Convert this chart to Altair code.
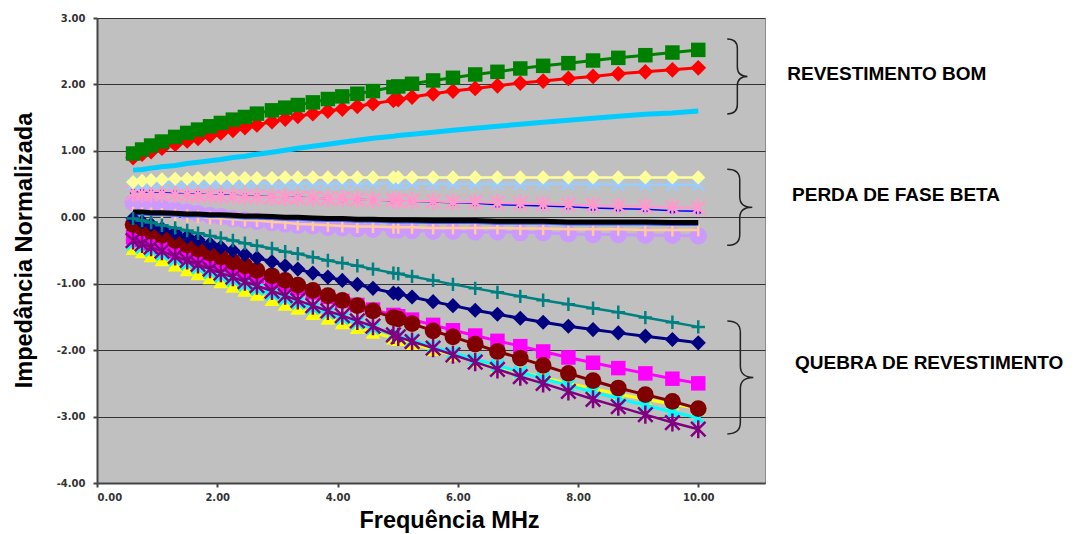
import altair as alt
import pandas as pd

# ---------------- data ----------------
freq = [0.60, 0.75, 0.90, 1.08, 1.30, 1.50, 1.68, 1.88, 2.06, 2.26, 2.46, 2.66, 2.91, 3.13,
        3.34, 3.59, 3.84, 4.08, 4.33, 4.59, 4.93, 5.01, 5.24, 5.59, 5.92, 6.29, 6.66, 7.04,
        7.42, 7.84, 8.25, 8.67, 9.12, 9.57, 10.00]

# REVESTIMENTO BOM
bom_green = [0.96, 1.02, 1.08, 1.14, 1.21, 1.27, 1.32, 1.37, 1.42, 1.47, 1.51, 1.56, 1.61, 1.65,
             1.69, 1.73, 1.78, 1.82, 1.86, 1.90, 1.96, 1.97, 2.01, 2.06, 2.10, 2.15, 2.19, 2.24,
             2.28, 2.32, 2.36, 2.40, 2.44, 2.48, 2.52]
bom_red = [0.90, 0.95, 0.99, 1.04, 1.10, 1.15, 1.19, 1.23, 1.27, 1.31, 1.35, 1.39, 1.44, 1.48,
           1.52, 1.56, 1.60, 1.63, 1.67, 1.71, 1.76, 1.77, 1.81, 1.86, 1.90, 1.94, 1.98, 2.02,
           2.05, 2.09, 2.12, 2.16, 2.19, 2.22, 2.25]
bom_sky = [0.71, 0.72, 0.74, 0.76, 0.78, 0.81, 0.83, 0.85, 0.87, 0.90, 0.92, 0.95, 0.98, 1.01,
           1.04, 1.07, 1.10, 1.13, 1.16, 1.19, 1.22, 1.23, 1.25, 1.28, 1.31, 1.34, 1.37, 1.40,
           1.43, 1.46, 1.49, 1.52, 1.55, 1.57, 1.60]

# PERDA DE FASE BETA
beta_ltyellow = [0.53, 0.55, 0.56, 0.57, 0.58, 0.58, 0.59, 0.59, 0.59, 0.59, 0.59, 0.59, 0.59, 0.60,
                 0.60, 0.60, 0.60, 0.60, 0.60, 0.60, 0.60, 0.60, 0.60, 0.60, 0.60, 0.60, 0.60, 0.60,
                 0.60, 0.60, 0.60, 0.60, 0.60, 0.60, 0.60]
beta_ltblue = [0.50, 0.51, 0.51, 0.52, 0.52, 0.52, 0.52, 0.52, 0.52, 0.52, 0.52, 0.52, 0.51, 0.51,
               0.51, 0.51, 0.51, 0.51, 0.51, 0.51, 0.51, 0.51, 0.51, 0.50, 0.50, 0.50, 0.50, 0.50,
               0.50, 0.50, 0.50, 0.49, 0.49, 0.49, 0.49]
beta_pink = [0.36, 0.35, 0.35, 0.35, 0.34, 0.34, 0.33, 0.33, 0.32, 0.32, 0.31, 0.31, 0.30, 0.30,
             0.29, 0.29, 0.28, 0.28, 0.27, 0.26, 0.26, 0.25, 0.25, 0.24, 0.23, 0.23, 0.22, 0.21,
             0.20, 0.19, 0.18, 0.17, 0.16, 0.15, 0.14]
beta_blue = [0.38, 0.38, 0.37, 0.37, 0.36, 0.35, 0.35, 0.34, 0.34, 0.33, 0.32, 0.32, 0.31, 0.30,
             0.30, 0.29, 0.28, 0.27, 0.27, 0.26, 0.25, 0.24, 0.24, 0.23, 0.22, 0.21, 0.19, 0.18,
             0.17, 0.16, 0.14, 0.13, 0.12, 0.10, 0.09]
beta_black = [0.08, 0.08, 0.07, 0.07, 0.06, 0.05, 0.05, 0.04, 0.04, 0.03, 0.02, 0.02, 0.01, 0.00,
              0.00, -0.01, -0.02, -0.02, -0.03, -0.03, -0.04, -0.04, -0.04, -0.05, -0.05, -0.05,
              -0.06, -0.06, -0.06, -0.07, -0.07, -0.07, -0.07, -0.08, -0.08]
beta_blue2 = [0.05, 0.05, 0.04, 0.04, 0.03, 0.02, 0.02, 0.01, 0.01, 0.00, -0.01, -0.01, -0.02, -0.03,
              -0.03, -0.04, -0.05, -0.05, -0.06, -0.06, -0.07, -0.07, -0.07, -0.08, -0.08, -0.08,
              -0.09, -0.09, -0.09, -0.10, -0.10, -0.10, -0.10, -0.11, -0.11]
beta_tan = [0.06, 0.05, 0.05, 0.04, 0.03, 0.02, 0.01, -0.01, -0.02, -0.03, -0.04, -0.05, -0.07, -0.08,
            -0.10, -0.11, -0.12, -0.13, -0.14, -0.14, -0.15, -0.15, -0.15, -0.16, -0.16, -0.16,
            -0.16, -0.17, -0.17, -0.18, -0.18, -0.18, -0.19, -0.19, -0.19]
beta_lavender = [0.22, 0.20, 0.17, 0.14, 0.11, 0.08, 0.06, 0.03, 0.01, -0.02, -0.04, -0.06, -0.08,
                 -0.10, -0.12, -0.13, -0.15, -0.16, -0.17, -0.18, -0.19, -0.19, -0.20, -0.21, -0.21,
                 -0.22, -0.22, -0.23, -0.23, -0.25, -0.26, -0.26, -0.27, -0.27, -0.28]

# QUEBRA DE REVESTIMENTO
qb_teal = [-0.02, -0.05, -0.08, -0.12, -0.16, -0.20, -0.24, -0.28, -0.31, -0.35, -0.39, -0.43, -0.47,
           -0.52, -0.55, -0.60, -0.65, -0.69, -0.73, -0.78, -0.84, -0.85, -0.89, -0.95, -1.01, -1.07,
           -1.13, -1.19, -1.25, -1.31, -1.37, -1.43, -1.51, -1.58, -1.65]
qb_navy = [-0.02, -0.07, -0.11, -0.17, -0.23, -0.29, -0.34, -0.40, -0.45, -0.50, -0.56, -0.61, -0.67,
           -0.73, -0.78, -0.84, -0.90, -0.95, -1.01, -1.07, -1.14, -1.15, -1.20, -1.27, -1.33, -1.40,
           -1.46, -1.52, -1.58, -1.64, -1.69, -1.74, -1.79, -1.84, -1.89]
qb_magenta = [-0.30, -0.34, -0.39, -0.44, -0.51, -0.56, -0.62, -0.67, -0.72, -0.78, -0.83, -0.89, -0.96,
              -1.01, -1.07, -1.13, -1.20, -1.26, -1.32, -1.39, -1.47, -1.49, -1.54, -1.62, -1.70,
              -1.78, -1.86, -1.94, -2.02, -2.11, -2.19, -2.27, -2.35, -2.43, -2.50]
qb_maroon = [-0.11, -0.16, -0.21, -0.27, -0.35, -0.42, -0.48, -0.54, -0.60, -0.67, -0.73, -0.80, -0.88,
             -0.95, -1.02, -1.10, -1.18, -1.25, -1.33, -1.41, -1.51, -1.53, -1.60, -1.71, -1.80,
             -1.91, -2.02, -2.12, -2.23, -2.35, -2.46, -2.57, -2.67, -2.77, -2.88]
qb_purple = [-0.35, -0.40, -0.45, -0.51, -0.59, -0.65, -0.71, -0.78, -0.84, -0.90, -0.97, -1.03, -1.11,
             -1.18, -1.25, -1.33, -1.41, -1.48, -1.56, -1.64, -1.77, -1.80, -1.87, -1.97, -2.07,
             -2.18, -2.29, -2.40, -2.50, -2.62, -2.74, -2.85, -2.97, -3.09, -3.19]
qb_cyan = [-0.40, -0.45, -0.50, -0.56, -0.64, -0.70, -0.76, -0.83, -0.89, -0.95, -1.02, -1.08, -1.16,
           -1.23, -1.29, -1.37, -1.44, -1.52, -1.59, -1.67, -1.76, -1.79, -1.85, -1.95, -2.04, -2.14,
           -2.23, -2.33, -2.43, -2.53, -2.63, -2.73, -2.83, -2.93, -3.02]
qb_yellow = [-0.47, -0.52, -0.58, -0.64, -0.72, -0.79, -0.85, -0.91, -0.97, -1.04, -1.10, -1.16, -1.24,
             -1.31, -1.37, -1.45, -1.52, -1.59, -1.66, -1.73, -1.82, -1.84, -1.90, -1.99, -2.07,
             -2.16, -2.25, -2.33, -2.41, -2.50, -2.58, -2.66, -2.74, -2.81, -2.88]

x_ticks = [0, 2, 4, 6, 8, 10]
y_ticks = [-4, -3, -2, -1, 0, 1, 2, 3]

group_labels = ["REVESTIMENTO BOM", "PERDA DE FASE BETA", "QUEBRA DE REVESTIMENTO"]
group_label_x = [11.48, 11.56, 11.61]
group_label_y = [2.15, 0.33, -2.20]
brace_x = [10.65, 10.69, 10.70]
brace_y = [2.12, 0.15, -2.41]

# ---------------- styles ----------------
PLUS = "M-1,0L1,0M0,-1L0,1"
XMARK = "M-1,-1L1,1M-1,1L1,-1"
AST = "M-1,-1L1,1M-1,1L1,-1M0,-1.25L0,1.25"
VBAR = "M0,-1L0,1"

# (values, color, line width, shape, size, filled, marker stroke width)
styles = [
    (beta_lavender, "#CC99FF", 3, "circle", 300, True, 1),
    (beta_tan, "#FFCC99", 2.5, VBAR, 170, False, 2.5),
    (beta_blue2, "#3366FF", 3, None, 0, True, 1),
    (beta_black, "#000000", 5, None, 0, True, 1),
    (beta_blue, "#0000FF", 1.5, "circle", 40, True, 1),
    (beta_pink, "#FF99CC", 2.5, AST, 190, False, 2.5),
    (beta_ltblue, "#99CCFF", 2.5, XMARK, 140, False, 2.5),
    (beta_ltyellow, "#FFFF99", 2.5, "diamond", 200, True, 1),
    (qb_yellow, "#FFFF00", 3, "triangle-up", 220, True, 1),
    (qb_cyan, "#00FFFF", 3, XMARK, 140, False, 3),
    (qb_magenta, "#FF00FF", 3, "square", 210, True, 1),
    (qb_purple, "#800080", 2.5, AST, 210, False, 2.5),
    (qb_maroon, "#800000", 3, "circle", 280, True, 1),
    (qb_navy, "#000080", 3, "diamond", 230, True, 1),
    (qb_teal, "#008080", 2.5, PLUS, 180, False, 2.5),
    (bom_sky, "#00CCFF", 5, None, 0, True, 1),
    (bom_red, "#FF0000", 3, "diamond", 250, True, 1),
    (bom_green, "#008000", 3, "square", 210, True, 1),
]

xs = alt.Scale(domain=[0, 11.11], nice=False, zero=False)
ys = alt.Scale(domain=[-4, 3], nice=False, zero=False)

x_axis = alt.Axis(
    values=x_ticks, format=".2f", title="Frequência MHz", grid=False,
    labelFont="DejaVu Sans", labelFontSize=10, labelFontWeight="bold", labelColor="#333333",
    tickSize=4, tickColor="#444444", tickWidth=2, domainColor="#444444", domainWidth=2,
    labelPadding=5,
    titleFont="Liberation Sans", titleFontSize=23.5, titleFontWeight="bold", titleColor="#000000",
    titleX=352, titleY=44, titleAlign="center", titleBaseline="alphabetic",
)
y_axis = alt.Axis(
    values=y_ticks,
    labelExpr="(datum.value < 0 ? '-' : '') + format(abs(datum.value), '.2f')",
    title="Impedância Normalizada", grid=True, gridColor="#333333", gridWidth=1,
    labelFont="DejaVu Sans", labelFontSize=10, labelFontWeight="bold", labelColor="#333333",
    tickSize=4, tickColor="#444444", tickWidth=2, domainColor="#444444", domainWidth=2,
    labelPadding=8,
    titleFont="Liberation Sans", titleFontSize=23.5, titleFontWeight="bold", titleColor="#000000",
    titleX=-66, titleY=232, titleAngle=270, titleAlign="center", titleBaseline="alphabetic",
)

ex = alt.X("f:Q", scale=xs, axis=x_axis)
ey = alt.Y("v:Q", scale=ys, axis=y_axis)

layers = []
for vals, color, lw, shape, size, filled, sw in styles:
    df = pd.DataFrame({"f": freq, "v": vals})
    layers.append(alt.Chart(df).mark_line(color=color, strokeWidth=lw).encode(x=ex, y=ey))
    if shape is not None:
        layers.append(
            alt.Chart(df).mark_point(shape=shape, size=size, filled=filled, color=color,
                                     strokeWidth=sw, opacity=1).encode(x=ex, y=ey)
        )

# braces (one shape per brace because aspect ratios differ)
brace_paths = [
    "M-0.27,-1Q0,-1 0,-0.75L0,-0.25Q0,0 0.27,0Q0,0 0,0.25L0,0.75Q0,1 -0.27,1",
    "M-0.33,-1Q0,-1 0,-0.72L0,-0.28Q0,0 0.33,0Q0,0 0,0.28L0,0.72Q0,1 -0.33,1",
    "M-0.23,-1Q0,-1 0,-0.8L0,-0.2Q0,0 0.23,0Q0,0 0,0.2L0,0.8Q0,1 -0.23,1",
]
brace_sizes = [75 * 75, 76 * 76, 113 * 113]
for bx, by, bp, bs in zip(brace_x, brace_y, brace_paths, brace_sizes):
    bdf = pd.DataFrame({"f": [bx], "v": [by]})
    layers.append(
        alt.Chart(bdf).mark_point(shape=bp, size=bs, filled=False, color="#222222",
                                  strokeWidth=1.5, opacity=1)
        .encode(x=ex, y=ey)
    )

ann = pd.DataFrame({"f": group_label_x, "v": group_label_y, "t": group_labels})
layers.append(
    alt.Chart(ann).mark_text(align="left", baseline="middle", font="Liberation Sans",
                             fontSize=19, fontWeight="bold", color="#000000")
    .encode(x=ex, y=ey, text="t:N")
)

chart = alt.layer(*layers).properties(
    width=668, height=465,
    autosize=alt.AutoSizeParams(type="none"),
    padding={"left": 89, "top": 10, "right": 300, "bottom": 50},
).configure_view(fill="#C0C0C0", stroke="#8a8a8a", strokeWidth=1)

chart.save("out.html", embed_options={"renderer": "svg", "actions": False})
